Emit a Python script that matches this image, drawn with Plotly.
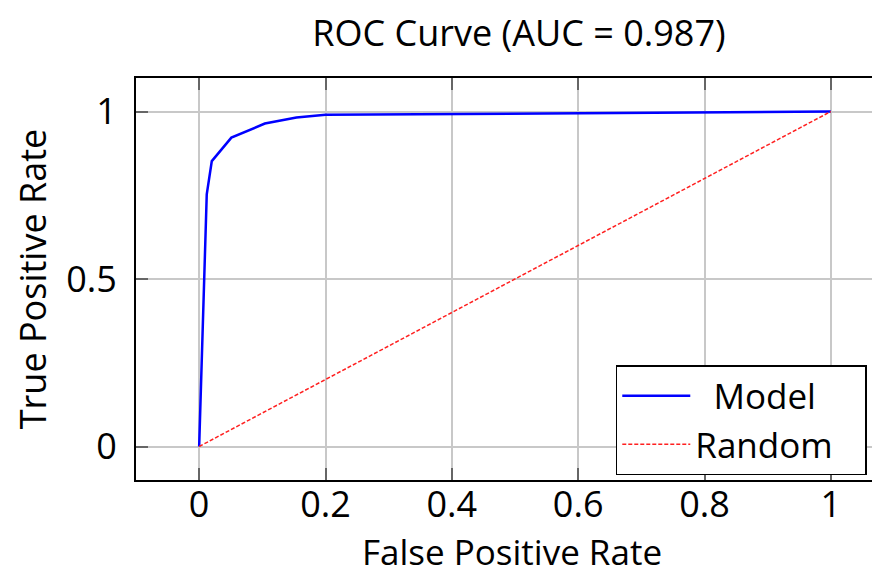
import plotly.graph_objects as go

fpr = [0.0, 0.012, 0.02, 0.051, 0.104, 0.154, 0.2, 0.4, 0.6, 0.8, 1.0]
tpr = [0.0, 0.753, 0.852, 0.922, 0.964, 0.982, 0.99, 0.993, 0.996, 0.998, 1.0]
rand_x = [0.0, 1.0]
rand_y = [0.0, 1.0]
auc = 0.987
series_names = ["Model", "Random"]
x_ticks = [0, 0.2, 0.4, 0.6, 0.8, 1]
x_labels = ["0", "0.2", "0.4", "0.6", "0.8", "1"]
y_ticks = [0, 0.5, 1]
y_labels = ["0", "0.5", "1"]

FONT = "Open Sans"
NB = "\u00a0"

fig = go.Figure()
fig.add_trace(go.Scatter(x=fpr, y=tpr, mode="lines", name=NB * 2 + series_names[0],
                         line=dict(color="#0000FF", width=2.5)))
fig.add_trace(go.Scatter(x=rand_x, y=rand_y, mode="lines", name=series_names[1] + NB * 3,
                         line=dict(color="#FF2020", width=1.5, dash="4px,2px")))

fig.update_layout(
    width=880, height=575,
    margin=dict(l=128, r=0, t=70, b=103),
    paper_bgcolor="white", plot_bgcolor="white",
    font=dict(family=FONT, size=36, color="black"),
    title=dict(text=f"ROC Curve (AUC = {auc})", x=511 / 880, xanchor="center",
               y=1 - 25 / 575, yanchor="middle", yref="container",
               font=dict(family=FONT, size=36, color="black")),
    legend=dict(x=0.638, y=0.286, xanchor="left", yanchor="top",
                bordercolor="black", borderwidth=1.5, bgcolor="white",
                font=dict(family=FONT, size=35, color="black"),
                itemwidth=68),
    showlegend=True,
)
fig.update_xaxes(range=[-0.1, 1.0905], tickvals=x_ticks, ticktext=x_labels,
                 showgrid=True, gridcolor="#c8c8c8", gridwidth=1.5,
                 showline=True, linecolor="black", linewidth=2, mirror="ticks",
                 ticks="inside", ticklen=12, tickcolor="#666", tickwidth=1.5,
                 zeroline=False, ticklabelstandoff=-8, automargin=False,
                 tickfont=dict(size=36),
                 title=dict(text="False Positive Rate", font=dict(family=FONT, size=35), standoff=8))
fig.update_yaxes(range=[-0.1, 1.1], tickvals=y_ticks, ticktext=y_labels,
                 showgrid=True, gridcolor="#c8c8c8", gridwidth=1.5,
                 showline=True, linecolor="black", linewidth=2, mirror="ticks",
                 ticks="inside", ticklen=12, tickcolor="#666", tickwidth=1.5,
                 zeroline=False, ticklabelstandoff=10, automargin=False,
                 tickfont=dict(size=36),
                 title=dict(text="True Positive Rate", font=dict(family=FONT, size=36), standoff=16))

fig.write_html("out.html")
